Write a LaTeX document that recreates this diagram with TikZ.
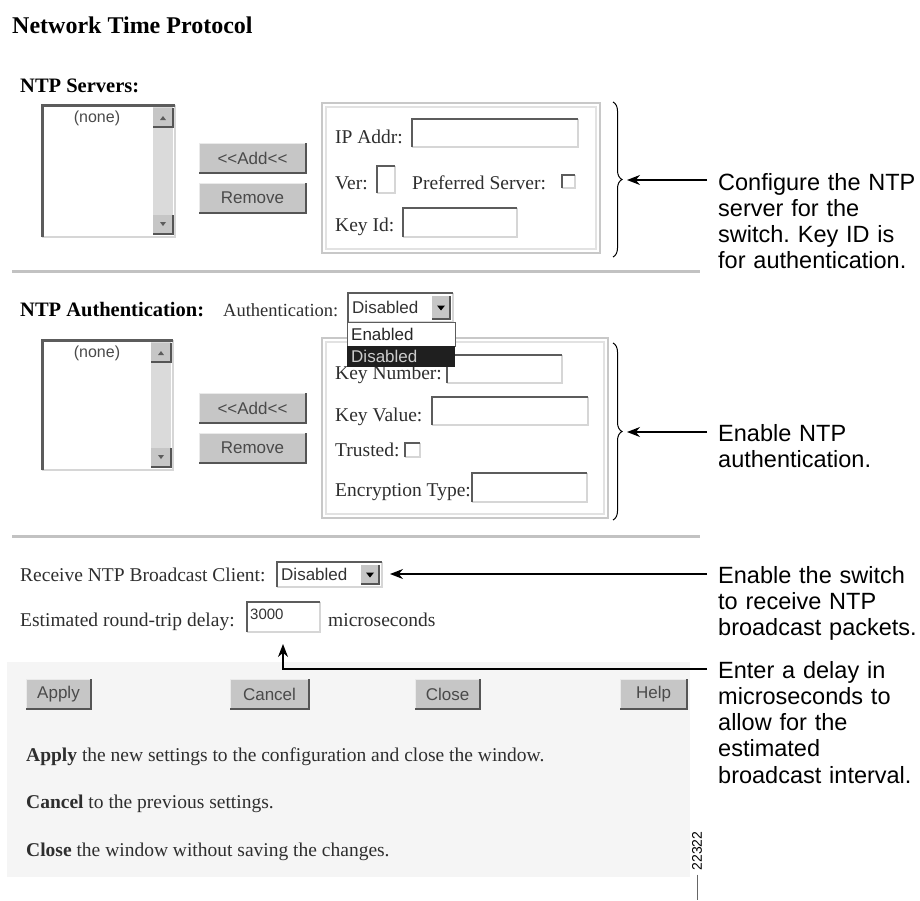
\documentclass[tikz,border=0pt]{standalone}
\usepackage{fontspec}
\setmainfont{Liberation Serif}
\setsansfont{Liberation Sans}
\usetikzlibrary{arrows.meta,decorations.pathreplacing}
\frenchspacing

\definecolor{btngray}{HTML}{C6C6C6}
\definecolor{shadow}{HTML}{555555}
\definecolor{hilite}{HTML}{EAEAEA}
\definecolor{darkedge}{HTML}{5C5C5C}
\definecolor{lightedge}{HTML}{D6D6D6}
\definecolor{trackgray}{HTML}{DADADA}
\definecolor{sepgray}{HTML}{C2C2C2}
\definecolor{panelgray}{HTML}{F5F5F5}
\definecolor{uitext}{HTML}{2E2E2E}
\definecolor{widgettext}{HTML}{4A4A4A}
\definecolor{groovea}{HTML}{C8C8C8}
\definecolor{grooveb}{HTML}{E2E2E2}

\tikzset{
  lbl/.style={anchor=base west, inner sep=0pt, text=uitext, font=\fontsize{19.5}{23}\selectfont},
  hdr/.style={anchor=base west, inner sep=0pt, font=\fontsize{20.5}{24}\selectfont\bfseries},
  wtxt/.style={inner sep=0pt, text=widgettext, font=\sffamily\fontsize{17}{19}\selectfont},
  callout/.style={anchor=base west, inner sep=0pt, text width=205pt, align=left,
                  font=\sffamily\fontsize{23.5}{26.3}\selectfont},
  arr/.style={line width=1.3pt, -{Stealth[length=13pt,width=10pt]}},
  bracedec/.style={decorate, decoration={brace, amplitude=9pt}, line width=1pt},
}

\newcommand\uifield[4]{%
  \fill[white] (#1,#2) rectangle (#3,#4);
  \draw[line width=1.5pt, lightedge] (#1,#4) -| (#3,#2);
  \draw[line width=2pt, darkedge] (#1,#4) |- (#3,#2);}

\newcommand\uibutton[6]{%
  \fill[btngray] (#2,#3) rectangle (#4,#5);
  \draw[line width=1pt, hilite] (#2,#5) |- (#4,#3);
  \draw[line width=2.2pt, shadow] (#2,#5) -| (#4,#3);
  \node[wtxt] (#1) at ({(#2+#4)/2},{(#3+#5)/2}) {#6};}

\newcommand\uidrop[6]{%
  \uifield{#2}{#3}{#4}{#5}
  \fill[btngray] ({#4-21},{#3+3}) rectangle ({#4-3},{#5-3});
  \draw[line width=1.2pt, shadow] ({#4-21},{#5-3}) -| ({#4-3},{#3+3});
  \fill[black] ({#4-16},{(#3+#5)/2-2}) -- ({#4-8},{(#3+#5)/2-2}) -- ({#4-12},{(#3+#5)/2+3}) -- cycle;
  \node[wtxt, anchor=west, text=black!80, font=\sffamily\fontsize{17}{19}\selectfont] (#1) at ({#2+4},{(#3+#5)/2}) {#6};}

\newcommand\uilist[5]{%
  \fill[white] (#2,#3) rectangle (#4,#5);
  \fill[trackgray] ({#4-22},{#3+2}) rectangle ({#4-2},{#5-2});
  \fill[btngray] ({#4-22},{#3+3}) rectangle ({#4-2},{#3+22});
  \draw[line width=1.2pt, shadow] ({#4-22},{#3+22}) -| ({#4-2},{#3+3});
  \fill[darkedge] ({#4-15},{#3+15}) -- ({#4-9},{#3+15}) -- ({#4-12},{#3+11}) -- cycle;
  \fill[btngray] ({#4-22},{#5-22}) rectangle ({#4-2},{#5-3});
  \draw[line width=1.2pt, shadow] ({#4-22},{#5-3}) -| ({#4-2},{#5-22});
  \fill[darkedge] ({#4-15},{#5-15}) -- ({#4-9},{#5-15}) -- ({#4-12},{#5-11}) -- cycle;
  \draw[line width=1.5pt, lightedge] (#2,#5) -| (#4,#3);
  \draw[line width=3pt, darkedge] (#2,#5) |- (#4,#3);
  \node[wtxt, font=\sffamily\fontsize{16}{19}\selectfont] (#1) at ({#2+55},{#3+13}) {(none)};}

\newcommand\uigroove[4]{%
  \draw[line width=2pt, groovea] (#1,#2) rectangle (#3,#4);
  \draw[line width=1.2pt, grooveb] ({#1+4},{#2+4}) rectangle ({#3-4},{#4-4});}

\begin{document}
\begin{tikzpicture}[x=1pt, y=-1pt]
\useasboundingbox (0,0) rectangle (920,900);
\fill[white] (0,0) rectangle (920,900);

% ---------- title ----------
\node[anchor=base west, inner sep=0pt, font=\fontsize{24}{28}\selectfont\bfseries] (title) at (12,33) {Network Time Protocol};

% ---------- NTP servers ----------
\node[hdr] (servhdr) at (20,92) {NTP Servers:};
\uilist{servnone}{42}{105}{175}{237}
\uibutton{servadd}{199}{143}{306}{173}{<\kern0pt<Add<\kern0pt<}
\uibutton{servrem}{199}{183}{306}{213}{Remove}
\uigroove{322}{103}{600}{253}
\node[lbl] (ipaddr) at (335,143) {IP Addr:};
\uifield{412}{119}{578}{147}
\node[lbl] (ver) at (335,189) {Ver:};
\uifield{377}{166}{395}{193}
\node[lbl] (pref) at (412,189) {Preferred Server:};
\uifield{562}{175}{575}{188}
\node[lbl] (keyid) at (335,231) {Key Id:};
\uifield{403}{208}{517}{237}

\draw[bracedec] (613,102) -- (613,257);
\coordinate (b1tip) at (627,180);
\coordinate (c1s) at (707,180);
\draw[arr] (c1s) -- (b1tip);
\node[callout] (call1) at (718,190) {Configure the NTP\\server for the\\switch. Key ID is\\for authentication.};

\draw[line width=3pt, sepgray] (12,271) -- (700,271);

% ---------- NTP authentication ----------
\node[hdr] (authhdr) at (20,316) {NTP Authentication:};
\node[lbl, font=\fontsize{18.5}{22}\selectfont] (authlbl) at (223,316) {Authentication:};
\uilist{authnone}{42}{340}{173}{470}
\uibutton{authadd}{199}{393}{306}{423}{<\kern0pt<Add<\kern0pt<}
\uibutton{authrem}{199}{433}{306}{463}{Remove}
\uigroove{322}{338}{608}{518}
\node[lbl] (keynum) at (335,379) {Key Number:};
\uifield{447}{355}{562}{383}
\node[lbl] (keyval) at (335,421) {Key Value:};
\uifield{432}{397}{588}{425}
\node[lbl] (trusted) at (335,456) {Trusted:};
\uifield{405}{443}{420}{457}
\node[lbl] (enctype) at (335,496) {Encryption Type:};
\uifield{472}{473}{587}{502}

\uidrop{authdrop}{348}{293}{453}{322}{Disabled}
\fill[white] (347,322) rectangle (455,346);
\draw[line width=1pt, darkedge] (347,322) rectangle (455,346);
\node[wtxt, anchor=west, text=black!85] (optena) at (351,334) {Enabled};
\fill[black!88] (347,346) rectangle (455,367);
\node[wtxt, anchor=west, text=black!20] (optdis) at (351,356.5) {Disabled};

\draw[bracedec] (613,343) -- (613,520);
\coordinate (b2tip) at (627,432);
\coordinate (c2s) at (707,432);
\draw[arr] (c2s) -- (b2tip);
\node[callout] (call2) at (718,441) {Enable NTP\\authentication.};

\draw[line width=3pt, sepgray] (12,536) -- (700,536);

% ---------- broadcast ----------
\node[lbl] (recv) at (20,581) {Receive NTP Broadcast Client:};
\uidrop{recvdrop}{277}{562}{382}{587}{Disabled}
\coordinate (d3tip) at (390,574);
\coordinate (c3s) at (707,574);
\draw[arr] (c3s) -- (d3tip);
\node[callout] (call3) at (718,583) {Enable the switch\\to receive NTP\\broadcast packets.};

\node[lbl] (estim) at (20,626) {Estimated round-trip delay:};
\uifield{247}{602}{320}{632}
\node[wtxt, anchor=west, text=black!80, font=\sffamily\fontsize{15}{18}\selectfont] (delayval) at (250,614) {3000};
\node[lbl] (micro) at (328,626) {microseconds};

% ---------- lower panel ----------
\fill[panelgray] (7,662) rectangle (690,877);
\uibutton{apply}{26}{679}{91}{709}{Apply}
\uibutton{cancel}{230}{679}{309}{709}{Cancel}
\uibutton{close}{415}{679}{480}{709}{Close}
\uibutton{help}{620}{679}{687}{709}{Help}
\node[lbl] (applytxt) at (26,761) {\textbf{Apply} the new settings to the configuration and close the window.};
\node[lbl] (canceltxt) at (26,808) {\textbf{Cancel} to the previous settings.};
\node[lbl] (closetxt) at (26,856) {\textbf{Close} the window without saving the changes.};

\coordinate (d4tip) at (283,644);
\coordinate (c4s) at (707,669);
\draw[arr] (c4s) -| (d4tip);
\node[callout] (call4) at (718,678) {Enter a delay in\\microseconds to\\allow for the\\estimated\\broadcast interval.};

% ---------- figure number ----------
\node[rotate=90, inner sep=0pt, font=\sffamily\fontsize{14}{16}\selectfont] (fignum) at (697,851) {22322};
\coordinate (fl) at (697,900);
\draw[line width=0.8pt, black!60] (fignum.west) ++(0,4) -- (fl);
\end{tikzpicture}
\end{document}
